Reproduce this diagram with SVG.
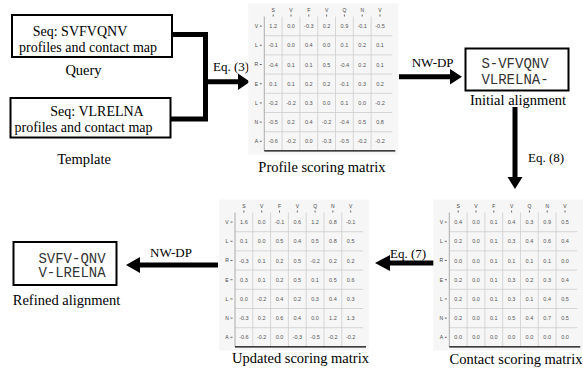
<svg xmlns="http://www.w3.org/2000/svg" xmlns:xlink="http://www.w3.org/1999/xlink" width="583" height="372" viewBox="0 0 583 372">
  <style>
    .box { fill: #fff; stroke: #000; stroke-width: 2; }
    .lbl { font-family: "Liberation Serif", "Times New Roman", serif; font-size: 14.5px; fill: #000; text-anchor: middle; }
    .eq { font-family: "Liberation Serif", "Times New Roman", serif; font-size: 13px; fill: #000; }
    .mono { font-family: "Liberation Mono", "Courier New", monospace; font-size: 14px; fill: #333; text-anchor: middle; }
    .mv { font-family: "Liberation Sans", Arial, sans-serif; font-size: 5.5px; fill: #555; text-anchor: middle; }
    .ml { font-family: "Liberation Sans", Arial, sans-serif; font-size: 5px; fill: #444; text-anchor: middle; }
    .flow { fill: none; stroke: #000; stroke-width: 5; stroke-linejoin: miter; }
    .head { fill: #000; }
  </style>
  <defs>
    <!-- 7x7 score grid; origin = top of the row axis -->
    <g id="grid">
      <rect x="-16" y="-13" width="150" height="151" fill="#f6f6f6"/>
      <path d="M0,19.2H128M0,38.4H128M0,57.6H128M0,76.8H128M0,96H128M0,115.2H128" stroke="#c9c9c9" stroke-width="0.7"/>
      <path d="M17.8,0V134.4M35.6,0V134.4M53.4,0V134.4M71.2,0V134.4M89,0V134.4M106.8,0V134.4" stroke="#c9c9c9" stroke-width="0.7"/>
      <path d="M0,0V134.4" stroke="#9a9a9a" stroke-width="0.8"/>
      <path d="M0,134.4H131" stroke="#000" stroke-width="1.3"/>
      <path d="M8.9,-2V0M26.7,-2V0M44.5,-2V0M62.3,-2V0M80.1,-2V0M97.9,-2V0M115.7,-2V0" stroke="#444" stroke-width="0.8"/>
      <path d="M-4.5,9.6H-2.5M-4.5,28.8H-2.5M-4.5,48H-2.5M-4.5,67.2H-2.5M-4.5,86.4H-2.5M-4.5,105.6H-2.5M-4.5,124.8H-2.5" stroke="#444" stroke-width="0.8"/>
    </g>
  </defs>

  <!-- connectors -->
  <g id="connectors">
    <path class="flow" d="M171,34.5H205.5V119H170"/>
    <path class="flow" d="M205.5,81.7H239"/>
    <polygon class="head" points="238,73.5 250,81.7 238,89.9"/>
    <text class="eq" x="213" y="71">Eq. (3)</text>

    <path class="flow" d="M399,76.7H451"/>
    <polygon class="head" points="450,69 462,76.7 450,84.4"/>
    <text class="eq" x="411.7" y="67">NW-DP</text>

    <path class="flow" d="M515,107V178"/>
    <polygon class="head" points="507.5,177 515,189 522.5,177"/>
    <text class="eq" x="528" y="162">Eq. (8)</text>

    <path class="flow" d="M437,263H389"/>
    <polygon class="head" points="390,255 375,263 390,271"/>
    <text class="eq" x="390" y="258">Eq. (7)</text>

    <path class="flow" d="M218,265H139"/>
    <polygon class="head" points="140,257 126,265 140,273"/>
    <text class="eq" x="150" y="257">NW-DP</text>
  </g>

  <!-- inputs -->
  <g id="query">
    <rect class="box" x="12" y="15" width="160" height="42"/>
    <text class="lbl" x="80" y="35.5" style="font-size:14px">Seq: SVFVQNV</text>
    <text class="lbl" x="88" y="51.5" style="font-size:14px">profiles and contact map</text>
    <text class="lbl" x="83.5" y="75">Query</text>
  </g>
  <g id="template">
    <rect class="box" x="10.5" y="98" width="160" height="39.5"/>
    <text class="lbl" x="97" y="115.5" style="font-size:14px">Seq: VLRELNA</text>
    <text class="lbl" x="83.5" y="131.5" style="font-size:14px">profiles and contact map</text>
    <text class="lbl" x="84" y="163.5">Template</text>
  </g>

  <!-- profile scoring matrix -->
  <g id="profile-matrix" transform="translate(264.3,16.5)">
    <use xlink:href="#grid"/>
    <text class="ml" y="-4.5"><tspan x="8.9">S</tspan><tspan x="26.7">V</tspan><tspan x="44.5">F</tspan><tspan x="62.3">V</tspan><tspan x="80.1">Q</tspan><tspan x="97.9">N</tspan><tspan x="115.7">V</tspan></text>
    <text class="ml" x="-8"><tspan x="-8" y="11.4">V</tspan><tspan x="-8" y="30.6">L</tspan><tspan x="-8" y="49.8">R</tspan><tspan x="-8" y="69">E</tspan><tspan x="-8" y="88.2">L</tspan><tspan x="-8" y="107.4">N</tspan><tspan x="-8" y="126.6">A</tspan></text>
    <text class="mv" y="11.6"><tspan x="8.9">1.2</tspan><tspan x="26.7">0.0</tspan><tspan x="44.5">-0.3</tspan><tspan x="62.3">0.2</tspan><tspan x="80.1">0.9</tspan><tspan x="97.9">-0.1</tspan><tspan x="115.7">-0.5</tspan></text>
    <text class="mv" y="30.8"><tspan x="8.9">-0.1</tspan><tspan x="26.7">0.0</tspan><tspan x="44.5">0.4</tspan><tspan x="62.3">0.0</tspan><tspan x="80.1">0.1</tspan><tspan x="97.9">0.2</tspan><tspan x="115.7">0.1</tspan></text>
    <text class="mv" y="50"><tspan x="8.9">-0.4</tspan><tspan x="26.7">0.1</tspan><tspan x="44.5">0.1</tspan><tspan x="62.3">0.5</tspan><tspan x="80.1">-0.4</tspan><tspan x="97.9">0.2</tspan><tspan x="115.7">0.1</tspan></text>
    <text class="mv" y="69.2"><tspan x="8.9">0.1</tspan><tspan x="26.7">0.1</tspan><tspan x="44.5">0.2</tspan><tspan x="62.3">0.2</tspan><tspan x="80.1">-0.1</tspan><tspan x="97.9">0.3</tspan><tspan x="115.7">0.2</tspan></text>
    <text class="mv" y="88.4"><tspan x="8.9">-0.2</tspan><tspan x="26.7">-0.2</tspan><tspan x="44.5">0.3</tspan><tspan x="62.3">0.0</tspan><tspan x="80.1">0.1</tspan><tspan x="97.9">0.0</tspan><tspan x="115.7">-0.2</tspan></text>
    <text class="mv" y="107.6"><tspan x="8.9">-0.5</tspan><tspan x="26.7">0.2</tspan><tspan x="44.5">0.4</tspan><tspan x="62.3">-0.2</tspan><tspan x="80.1">-0.4</tspan><tspan x="97.9">0.5</tspan><tspan x="115.7">0.8</tspan></text>
    <text class="mv" y="126.8"><tspan x="8.9">-0.6</tspan><tspan x="26.7">-0.2</tspan><tspan x="44.5">0.0</tspan><tspan x="62.3">-0.3</tspan><tspan x="80.1">-0.5</tspan><tspan x="97.9">-0.2</tspan><tspan x="115.7">-0.2</tspan></text>
  </g>
  <text class="lbl" x="322" y="172">Profile scoring matrix</text>

  <!-- initial alignment -->
  <g id="initial-alignment">
    <rect class="box" x="465.5" y="48.5" width="103" height="42"/>
    <text class="mono" x="515" y="67.5">S-VFVQNV</text>
    <text class="mono" x="515" y="83.5">VLRELNA-</text>
    <text class="lbl" x="518" y="104.5">Initial alignment</text>
  </g>

  <!-- contact scoring matrix -->
  <g id="contact-matrix" transform="translate(449.3,212.5)">
    <use xlink:href="#grid"/>
    <text class="ml" y="-4.5"><tspan x="8.9">S</tspan><tspan x="26.7">V</tspan><tspan x="44.5">F</tspan><tspan x="62.3">V</tspan><tspan x="80.1">Q</tspan><tspan x="97.9">N</tspan><tspan x="115.7">V</tspan></text>
    <text class="ml" x="-8"><tspan x="-8" y="11.4">V</tspan><tspan x="-8" y="30.6">L</tspan><tspan x="-8" y="49.8">R</tspan><tspan x="-8" y="69">E</tspan><tspan x="-8" y="88.2">L</tspan><tspan x="-8" y="107.4">N</tspan><tspan x="-8" y="126.6">A</tspan></text>
    <text class="mv" y="11.6"><tspan x="8.9">0.4</tspan><tspan x="26.7">0.0</tspan><tspan x="44.5">0.1</tspan><tspan x="62.3">0.4</tspan><tspan x="80.1">0.3</tspan><tspan x="97.9">0.9</tspan><tspan x="115.7">0.5</tspan></text>
    <text class="mv" y="30.8"><tspan x="8.9">0.2</tspan><tspan x="26.7">0.0</tspan><tspan x="44.5">0.1</tspan><tspan x="62.3">0.3</tspan><tspan x="80.1">0.4</tspan><tspan x="97.9">0.6</tspan><tspan x="115.7">0.4</tspan></text>
    <text class="mv" y="50"><tspan x="8.9">0.0</tspan><tspan x="26.7">0.0</tspan><tspan x="44.5">0.1</tspan><tspan x="62.3">0.1</tspan><tspan x="80.1">0.1</tspan><tspan x="97.9">0.1</tspan><tspan x="115.7">0.0</tspan></text>
    <text class="mv" y="69.2"><tspan x="8.9">0.2</tspan><tspan x="26.7">0.0</tspan><tspan x="44.5">0.1</tspan><tspan x="62.3">0.3</tspan><tspan x="80.1">0.2</tspan><tspan x="97.9">0.3</tspan><tspan x="115.7">0.4</tspan></text>
    <text class="mv" y="88.4"><tspan x="8.9">0.2</tspan><tspan x="26.7">0.0</tspan><tspan x="44.5">0.1</tspan><tspan x="62.3">0.3</tspan><tspan x="80.1">0.1</tspan><tspan x="97.9">0.4</tspan><tspan x="115.7">0.5</tspan></text>
    <text class="mv" y="107.6"><tspan x="8.9">0.2</tspan><tspan x="26.7">0.0</tspan><tspan x="44.5">0.1</tspan><tspan x="62.3">0.5</tspan><tspan x="80.1">0.4</tspan><tspan x="97.9">0.7</tspan><tspan x="115.7">0.5</tspan></text>
    <text class="mv" y="126.8"><tspan x="8.9">0.0</tspan><tspan x="26.7">0.0</tspan><tspan x="44.5">0.0</tspan><tspan x="62.3">0.0</tspan><tspan x="80.1">0.0</tspan><tspan x="97.9">0.0</tspan><tspan x="115.7">0.0</tspan></text>
  </g>
  <text class="lbl" x="516" y="364">Contact scoring matrix</text>

  <!-- updated scoring matrix -->
  <g id="updated-matrix" transform="translate(235,212.5)">
    <use xlink:href="#grid"/>
    <text class="ml" y="-4.5"><tspan x="8.9">S</tspan><tspan x="26.7">V</tspan><tspan x="44.5">F</tspan><tspan x="62.3">V</tspan><tspan x="80.1">Q</tspan><tspan x="97.9">N</tspan><tspan x="115.7">V</tspan></text>
    <text class="ml" x="-8"><tspan x="-8" y="11.4">V</tspan><tspan x="-8" y="30.6">L</tspan><tspan x="-8" y="49.8">R</tspan><tspan x="-8" y="69">E</tspan><tspan x="-8" y="88.2">L</tspan><tspan x="-8" y="107.4">N</tspan><tspan x="-8" y="126.6">A</tspan></text>
    <text class="mv" y="11.6"><tspan x="8.9">1.6</tspan><tspan x="26.7">0.0</tspan><tspan x="44.5">-0.1</tspan><tspan x="62.3">0.6</tspan><tspan x="80.1">1.2</tspan><tspan x="97.9">0.8</tspan><tspan x="115.7">-0.1</tspan></text>
    <text class="mv" y="30.8"><tspan x="8.9">0.1</tspan><tspan x="26.7">0.0</tspan><tspan x="44.5">0.5</tspan><tspan x="62.3">0.4</tspan><tspan x="80.1">0.5</tspan><tspan x="97.9">0.8</tspan><tspan x="115.7">0.5</tspan></text>
    <text class="mv" y="50"><tspan x="8.9">-0.3</tspan><tspan x="26.7">0.1</tspan><tspan x="44.5">0.2</tspan><tspan x="62.3">0.5</tspan><tspan x="80.1">-0.2</tspan><tspan x="97.9">0.2</tspan><tspan x="115.7">0.2</tspan></text>
    <text class="mv" y="69.2"><tspan x="8.9">0.3</tspan><tspan x="26.7">0.1</tspan><tspan x="44.5">0.2</tspan><tspan x="62.3">0.5</tspan><tspan x="80.1">0.1</tspan><tspan x="97.9">0.5</tspan><tspan x="115.7">0.6</tspan></text>
    <text class="mv" y="88.4"><tspan x="8.9">0.0</tspan><tspan x="26.7">-0.2</tspan><tspan x="44.5">0.4</tspan><tspan x="62.3">0.2</tspan><tspan x="80.1">0.3</tspan><tspan x="97.9">0.4</tspan><tspan x="115.7">0.3</tspan></text>
    <text class="mv" y="107.6"><tspan x="8.9">-0.3</tspan><tspan x="26.7">0.2</tspan><tspan x="44.5">0.6</tspan><tspan x="62.3">0.4</tspan><tspan x="80.1">0.0</tspan><tspan x="97.9">1.2</tspan><tspan x="115.7">1.3</tspan></text>
    <text class="mv" y="126.8"><tspan x="8.9">-0.6</tspan><tspan x="26.7">-0.2</tspan><tspan x="44.5">0.0</tspan><tspan x="62.3">-0.3</tspan><tspan x="80.1">-0.5</tspan><tspan x="97.9">-0.2</tspan><tspan x="115.7">-0.2</tspan></text>
  </g>
  <text class="lbl" x="300.5" y="363">Updated scoring matrix</text>

  <!-- refined alignment -->
  <g id="refined-alignment">
    <rect class="box" x="13.5" y="242" width="103" height="43"/>
    <text class="mono" x="72" y="262.5">SVFV-QNV</text>
    <text class="mono" x="72" y="277">V-LRELNA</text>
    <text class="lbl" x="66.5" y="305">Refined alignment</text>
  </g>
</svg>
